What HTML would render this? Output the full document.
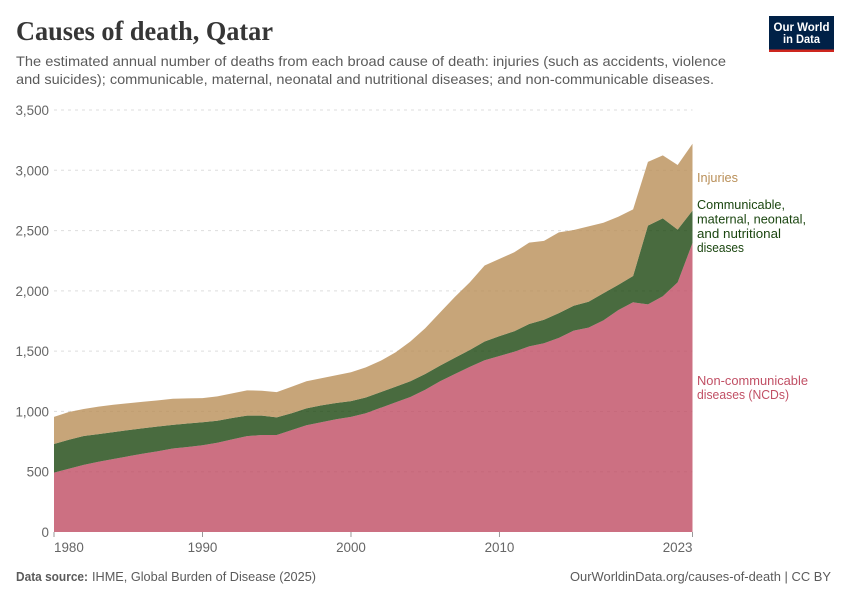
<!DOCTYPE html>
<html lang="en">
<head>
<meta charset="utf-8">
<title>Causes of death, Qatar</title>
<style>
  html, body { margin: 0; padding: 0; background: #fff; }
  svg { display: block; font-family: "Liberation Sans", sans-serif; }
</style>
</head>
<body>
<svg id="chart" xmlns="http://www.w3.org/2000/svg" width="850" height="600" viewBox="0 0 850 600">
  <rect x="0" y="0" width="850" height="600" fill="#fff"/>
  <text x="16" y="40" font-family="'Liberation Serif', serif" font-weight="700" font-size="27" fill="#363636" textLength="257" lengthAdjust="spacingAndGlyphs">Causes of death, Qatar</text>
  <text x="16" y="66" font-size="14" fill="#5b5b5b" textLength="710" lengthAdjust="spacingAndGlyphs">The estimated annual number of deaths from each broad cause of death: injuries (such as accidents, violence</text>
  <text x="16" y="84" font-size="14" fill="#5b5b5b" textLength="698" lengthAdjust="spacingAndGlyphs">and suicides); communicable, maternal, neonatal and nutritional diseases; and non-communicable diseases.</text>

  <g>
    <rect x="769" y="16" width="65" height="36" fill="#002147"/>
    <rect x="769" y="49.5" width="65" height="2.5" fill="#ce261e"/>
    <text x="801.5" y="31" text-anchor="middle" font-size="11.5" font-weight="700" fill="#fff" textLength="56" lengthAdjust="spacingAndGlyphs">Our World</text>
    <text x="801.5" y="43" text-anchor="middle" font-size="11.5" font-weight="700" fill="#fff" textLength="37" lengthAdjust="spacingAndGlyphs">in Data</text>
  </g>

  <g id="grid"></g>
  <g id="areas"></g>
  <g id="y-axis"></g>
  <g id="x-axis"></g>

  <g font-size="13">
    <text x="697" y="182" fill="#b98f58" textLength="41" lengthAdjust="spacingAndGlyphs">Injuries</text>
    <g fill="#1b4610">
      <text x="697" y="209" textLength="88" lengthAdjust="spacingAndGlyphs">Communicable,</text>
      <text x="697" y="223.5" textLength="109" lengthAdjust="spacingAndGlyphs">maternal, neonatal,</text>
      <text x="697" y="238" textLength="84" lengthAdjust="spacingAndGlyphs">and nutritional</text>
      <text x="697" y="252" textLength="47" lengthAdjust="spacingAndGlyphs">diseases</text>
    </g>
    <g fill="#c15065">
      <text x="697" y="385" textLength="111" lengthAdjust="spacingAndGlyphs">Non-communicable</text>
      <text x="697" y="399" textLength="92" lengthAdjust="spacingAndGlyphs">diseases (NCDs)</text>
    </g>
  </g>

  <text x="16" y="581" font-size="13" font-weight="700" fill="#5b5b5b" textLength="72" lengthAdjust="spacingAndGlyphs">Data source:</text>
  <text x="92" y="581" font-size="13" fill="#5b5b5b" textLength="224" lengthAdjust="spacingAndGlyphs">IHME, Global Burden of Disease (2025)</text>
  <text x="570" y="581" font-size="13" fill="#5b5b5b" textLength="261" lengthAdjust="spacingAndGlyphs">OurWorldinData.org/causes-of-death | CC BY</text>
</svg>

<script>
const years = [1980,1981,1982,1983,1984,1985,1986,1987,1988,1989,1990,1991,1992,1993,1994,1995,1996,1997,1998,1999,2000,2001,2002,2003,2004,2005,2006,2007,2008,2009,2010,2011,2012,2013,2014,2015,2016,2017,2018,2019,2020,2021,2022,2023];
const ncds = [492,525,557,583,605,628,650,670,692,705,720,740,768,795,805,805,845,885,910,935,955,985,1030,1075,1120,1180,1250,1310,1370,1425,1460,1495,1540,1565,1610,1670,1695,1755,1840,1905,1888,1955,2070,2397];
const communicable = [238,240,239,229,223,217,210,205,196,195,190,183,177,170,160,146,140,140,140,135,130,130,130,130,130,130,130,135,140,155,165,170,185,195,205,207,215,225,210,218,653,646,438,268];
const injuries = [225,230,224,228,227,223,220,217,217,208,200,202,205,210,207,209,220,225,225,230,240,250,260,285,330,380,440,505,560,630,640,655,675,655,670,628,625,585,565,553,529,523,536,555];
const yTicks = [0,500,1000,1500,2000,2500,3000,3500];
const xTicks = [1980,1990,2000,2010,2023];

const NS = 'http://www.w3.org/2000/svg';
const xScale = function (v) { return 54 + (v - 1980) * (692.5 - 54) / (2023 - 1980); };
const yScale = function (v) { return 532 - v * (532 - 110) / 3500; };

function make(tag, parent) {
  const el = document.createElementNS(NS, tag);
  parent.appendChild(el);
  return el;
}

const gridGroup = document.getElementById('grid');
const yAxisGroup = document.getElementById('y-axis');
yTicks.forEach(function (t) {
  if (t > 0) {
    const line = make('line', gridGroup);
    
    
    line.setAttribute('x1', 54);
    line.setAttribute('x2', 692.5);
    line.setAttribute('y1', yScale(t));
    line.setAttribute('y2', yScale(t));
    line.setAttribute('stroke', '#dddddd');
    line.setAttribute('stroke-dasharray', '3,4');
  }
  const label = make('text', yAxisGroup);
  
  
  label.setAttribute('x', 49);
  label.setAttribute('y', yScale(t) + 5);
  label.setAttribute('text-anchor', 'end');
  label.setAttribute('font-size', '13.4');
  label.setAttribute('fill', '#666666');
  label.textContent = t.toLocaleString('en-US');
});

const areasGroup = document.getElementById('areas');
const seriesList = [
  { name: 'area-ncds', values: ncds, fill: '#bf4c63' },
  { name: 'area-communicable', values: communicable, fill: '#1b460f' },
  { name: 'area-injuries', values: injuries, fill: '#b98f58' }
];
const baseline = years.map(function () { return 0; });
let lower = baseline;
seriesList.forEach(function (s) {
  const upper = s.values.map(function (v, i) { return lower[i] + v; });
  const top = years.map(function (yr, i) { return xScale(yr).toFixed(2) + ',' + yScale(upper[i]).toFixed(2); });
  const bottom = years.map(function (yr, i) { return xScale(yr).toFixed(2) + ',' + yScale(lower[i]).toFixed(2); }).reverse();
  const path = make('path', areasGroup);
  
  
  path.setAttribute('d', 'M' + top.join('L') + 'L' + bottom.join('L') + 'Z');
  path.setAttribute('fill', s.fill);
  path.setAttribute('fill-opacity', '0.8');
  lower = upper;
});

const xAxisGroup = document.getElementById('x-axis');
xTicks.forEach(function (t, i) {
  const tick = make('line', xAxisGroup);
  
  
  tick.setAttribute('x1', xScale(t));
  tick.setAttribute('x2', xScale(t));
  tick.setAttribute('y1', 532);
  tick.setAttribute('y2', 537);
  tick.setAttribute('stroke', '#999999');
  const label = make('text', xAxisGroup);
  
  
  label.setAttribute('y', 552);
  label.setAttribute('font-size', '13.4');
  label.setAttribute('fill', '#666666');
  if (i === 0) {
    label.setAttribute('x', xScale(t));
    label.setAttribute('text-anchor', 'start');
  } else if (i === xTicks.length - 1) {
    label.setAttribute('x', xScale(t));
    label.setAttribute('text-anchor', 'end');
  } else {
    label.setAttribute('x', xScale(t));
    label.setAttribute('text-anchor', 'middle');
  }
  label.textContent = String(t);
});
</script>
</body>
</html>
